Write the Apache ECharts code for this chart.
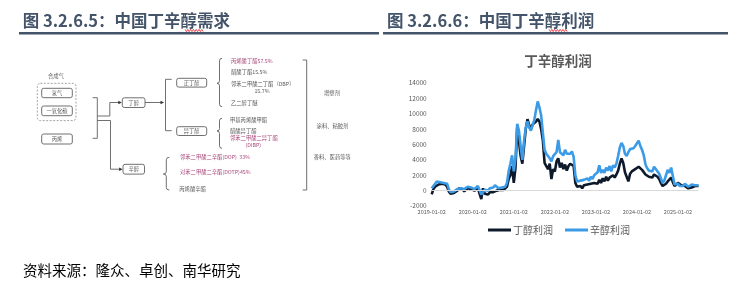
<!DOCTYPE html>
<html><head><meta charset="utf-8">
<script src="https://cdn.jsdelivr.net/npm/echarts@6/dist/echarts.min.js"></script>
<style>html,body{margin:0;padding:0;background:#fff}#c{width:744px;height:283px}</style>
</head><body><div id="c"></div>
<script>
// ---------- data ----------
const chartTitle = '丁辛醇利润';
const seriesNames = ['丁醇利润', '辛醇利润'];
const xTickLabels = ['2019-01-02','2020-01-02','2021-01-02','2022-01-02','2023-01-02','2024-01-02','2025-01-02'];
const yMin = -2000, yMax = 14000, yStep = 2000;
// semi-monthly readings (2nd and 16th of each month), 2019-01 .. 2025-07
const butanolProfit = [
  -500,200,500,700,800,600,900,700,800,500,-100,-400,-500,-300,-400,0,300,100,200,-100,100,300,100,200,
  300,0,200,300,100,-1100,300,-400,-300,-500,-200,-400,-200,-300,0,-100,100,200,100,300,500,1500,2000,3200,
  1000,3000,8200,6500,4500,3500,5800,8000,9300,8500,8000,8600,8800,9000,9300,9000,8000,6500,3600,3200,2800,3500,1500,2800,
  2500,3800,4200,3000,3600,2800,3400,2600,3200,3500,3600,3200,1000,500,400,600,300,700,500,800,600,900,700,1000,
  1200,900,1400,1000,1600,1200,1800,1300,1700,1500,2000,1700,2100,2600,3500,4200,3600,2400,2300,1200,2200,2500,2600,2800,
  3000,3100,2900,2700,2500,2100,2000,1800,2000,1700,2100,1900,1800,1500,1000,600,700,900,1200,1000,1700,1100,600,800,
  1000,900,700,500,600,400,300,200,400,300,600,500,600
];
const octanolProfit = [
  300,600,800,1200,1000,1100,1200,1000,1100,900,200,-200,-300,-100,-300,200,400,300,500,200,300,500,300,400,
  500,200,400,600,400,-500,-200,100,200,0,300,100,400,700,500,300,200,400,300,500,1000,2500,3500,4600,
  2500,4200,8700,7800,5800,4000,6500,8200,9000,8200,7800,8500,9200,10500,11600,10800,9800,7500,5300,4800,4500,4200,3800,4500,
  4500,5000,6600,5000,5200,4600,5300,4800,5000,4800,5100,4400,2000,1200,1000,1300,1100,1400,1200,1600,1300,1800,1500,2000,
  2200,2400,3300,2300,2700,2300,3000,2600,3200,2500,3300,3000,3500,4500,5600,6200,5800,4800,4500,5000,5400,5300,5500,5800,
  6000,6500,5800,5300,4600,3400,2900,2600,2800,2500,3100,2800,2600,2200,1600,1000,1300,2000,2700,2300,3000,1900,800,900,
  900,600,500,600,900,700,500,400,800,900,700,900,700
];
const categories = [];
for (let y = 2019; y <= 2025; y++) for (let m = 1; m <= 12; m++) for (const d of ['02','16'])
  if (categories.length < butanolProfit.length) categories.push(y + '-' + String(m).padStart(2,'0') + '-' + d);

// ---------- helpers ----------
const FONT = '"Noto Sans CJK SC", "Noto Sans", sans-serif';
const GREY = '#595959', PINK = '#a8477a', LINE = '#606060';
const g = [];
function txt(x, y, s, size, color, align, weight) {
  g.push({type:'text', x:x, y:y, silent:true, style:{text:s, fontSize:size, fontFamily:FONT, fontWeight:weight||'normal',
    fill:color, align:align||'left', verticalAlign:'middle', textAlign:align||'left', textVerticalAlign:'middle'}});
}
function box(x, y, w, h, s) {
  g.push({type:'rect', shape:{x:x, y:y, width:w, height:h, r:2}, style:{fill:'#fff', stroke:LINE, lineWidth:0.9}});
  txt(x + w/2, y + h/2, s, 5.3, GREY, 'center');
}
function pl(points, color, w) {
  g.push({type:'polyline', shape:{points:points}, style:{stroke:color||LINE, lineWidth:w||0.9, fill:null}});
}
function arrow(x, y) {
  g.push({type:'polygon', shape:{points:[[x-3.5,y-1.8],[x,y],[x-3.5,y+1.8]]}, style:{fill:'#333'}});
}
function qc(x1,y1,cx,cy,x2,y2){
  g.push({type:'bezierCurve', shape:{x1:x1,y1:y1,x2:x2,y2:y2,cpx1:cx,cpy1:cy}, style:{stroke:LINE, lineWidth:0.9, fill:null}});
}
function brace(x, top, bottom, tip, w) {
  const h = w/2;
  qc(x+w, top, x+h, top, x+h, top+2.5);
  pl([[x+h, top+2.5],[x+h, tip-2.5]]);
  qc(x+h, tip-2.5, x+h, tip, x, tip);
  qc(x, tip, x+h, tip, x+h, tip+2.5);
  pl([[x+h, tip+2.5],[x+h, bottom-2.5]]);
  qc(x+h, bottom-2.5, x+h, bottom, x+w, bottom);
}
function wavy(x0, x1, y) {
  const pts = []; let k = 0;
  for (let x = x0; x <= x1; x += 1.4) { pts.push([x, y + (k++ % 2 ? 1.1 : -1.1)]); }
  pl(pts, '#e0202a', 0.8);
}

// ---------- page headers ----------
txt(22.7, 20.7, '图 3.2.6.5：中国丁辛醇需求', 16.5, '#44546a', 'left', 'bold');
txt(387, 20.7, '图 3.2.6.6：中国丁辛醇利润', 16.5, '#44546a', 'left', 'bold');
wavy(185, 204, 30.5);
wavy(549, 568, 30.5);
g.push({type:'line', shape:{x1:19,y1:33.3,x2:379,y2:33.3}, style:{stroke:'#44546a', lineWidth:2.5}});
g.push({type:'line', shape:{x1:383,y1:33.3,x2:728,y2:33.3}, style:{stroke:'#44546a', lineWidth:2.5}});
txt(23, 270.7, '资料来源：隆众、卓创、南华研究', 14.5, '#000', 'left');
txt(558, 61, chartTitle, 13.5, GREY, 'center', 'bold');

// ---------- left diagram ----------
txt(56, 76, '合成气', 5.3, GREY, 'center');
g.push({type:'rect', shape:{x:37.3, y:83.3, width:38.7, height:37.3, r:3}, style:{fill:null, stroke:'#9a9a9a', lineWidth:0.9, lineDash:[2,1.5]}});
box(41.7, 88.3, 30.6, 9.4, '氢气');
box(41.7, 106, 30.6, 9.7, '一氧化碳');
box(41.7, 134, 30.6, 10, '丙烯');
pl([[92.7,97.7],[97.3,97.7],[97.3,138.3],[92.7,138.3]]);
pl([[97.3,116],[109.8,116],[109.8,102.5],[120,102.5]]); arrow(121.8,102.5);
pl([[97.3,120.5],[110.5,120.5],[110.5,169.2],[120,169.2]]); arrow(122.6,169.2);
box(122.3, 97.8, 22.7, 9.7, '丁醇');
box(123, 164.3, 21.5, 9.8, '辛醇');
pl([[145,102.5],[161,102.5]]); arrow(164,102.5);
pl([[171.7,79.3],[165.5,79.3],[165.5,130.7],[171.7,130.7]]);
box(176.7, 78.3, 30, 8.8, '正丁醇');
box(176.7, 126.7, 30, 8.8, '异丁醇');
brace(217, 58.3, 106.7, 83.3, 5);
brace(217, 118.3, 148.3, 131, 5);
brace(163.3, 157.3, 190, 174, 6);
txt(231, 61, '丙烯酸丁酯57.5%', 5.3, PINK);
txt(231, 72.3, '醋酸丁酯15.5%', 5.3, GREY);
txt(231, 84, '邻苯二甲酸二丁酯（DBP）', 5.3, GREY);
txt(262, 90.7, '15.7%', 5.3, GREY, 'center');
txt(231, 103.3, '乙二醇丁醚', 5.3, GREY);
txt(230, 120, '甲基丙烯酸甲酯', 5.3, GREY);
txt(230, 130.7, '醋酸异丁酯', 5.3, GREY);
txt(230, 138.3, '邻苯二甲酸二异丁酯', 5.3, PINK);
txt(253.3, 145, '(DIBP)', 5.3, PINK, 'center');
txt(180, 156.7, '邻苯二甲酸二辛酯(DOP)  33%', 5.3, PINK);
txt(180, 172.3, '对苯二甲酸二辛酯(DOTP)45%', 5.3, PINK);
txt(179.3, 189.3, '丙烯酸辛酯', 5.3, GREY);
pl([[302.7,60],[306.7,60],[306.7,190],[302.7,190]]);
txt(332, 93.3, '增塑剂', 5.3, GREY, 'center');
txt(332.5, 126, '涂料、粘胶剂', 5.3, GREY, 'center');
txt(332.3, 157.3, '香料、医药等等', 5.3, GREY, 'center');

// ---------- chart ----------
const chart = echarts.init(document.getElementById('c'), null, {renderer:'canvas'});
chart.setOption({
  animation:false,
  backgroundColor:'#fff',
  textStyle:{fontFamily:FONT},
  grid:{left:431.7, right:45.5, top:83, bottom:77},
  legend:{data:seriesNames, left:488, top:225, padding:0, icon:'rect', itemWidth:23, itemHeight:3, itemGap:12,
    textStyle:{fontSize:10, color:GREY, padding:[0,0,0,-3]}},
  xAxis:{type:'category', data:categories, boundaryGap:false,
    axisLine:{show:false}, axisTick:{show:false}, splitLine:{show:false},
    axisLabel:{interval:function(i, v){ return xTickLabels.indexOf(v) >= 0; }, fontSize:5.5, color:GREY, margin:3}},
  yAxis:{type:'value', min:yMin, max:yMax, interval:yStep, splitLine:{show:false},
    axisLine:{show:false}, axisTick:{show:false},
    axisLabel:{fontSize:6.5, color:GREY, margin:5, formatter:function(v){ return String(v); }}},
  series:[
    {name:seriesNames[0], type:'line', data:butanolProfit, showSymbol:false, symbol:'none',
     lineStyle:{width:2.6, color:'#0e1a2b'}, itemStyle:{color:'#0e1a2b'}, z:3,
     markLine:{silent:true, symbol:'none', label:{show:false}, animation:false,
       lineStyle:{color:'#d9d9d9', type:'solid', width:1}, data:[{yAxis:0}]}},
    {name:seriesNames[1], type:'line', data:octanolProfit, showSymbol:false, symbol:'none',
     lineStyle:{width:2.6, color:'#3b9be6'}, itemStyle:{color:'#3b9be6'}, z:4}
  ],
  graphic:{elements:g}
});
</script></body></html>
